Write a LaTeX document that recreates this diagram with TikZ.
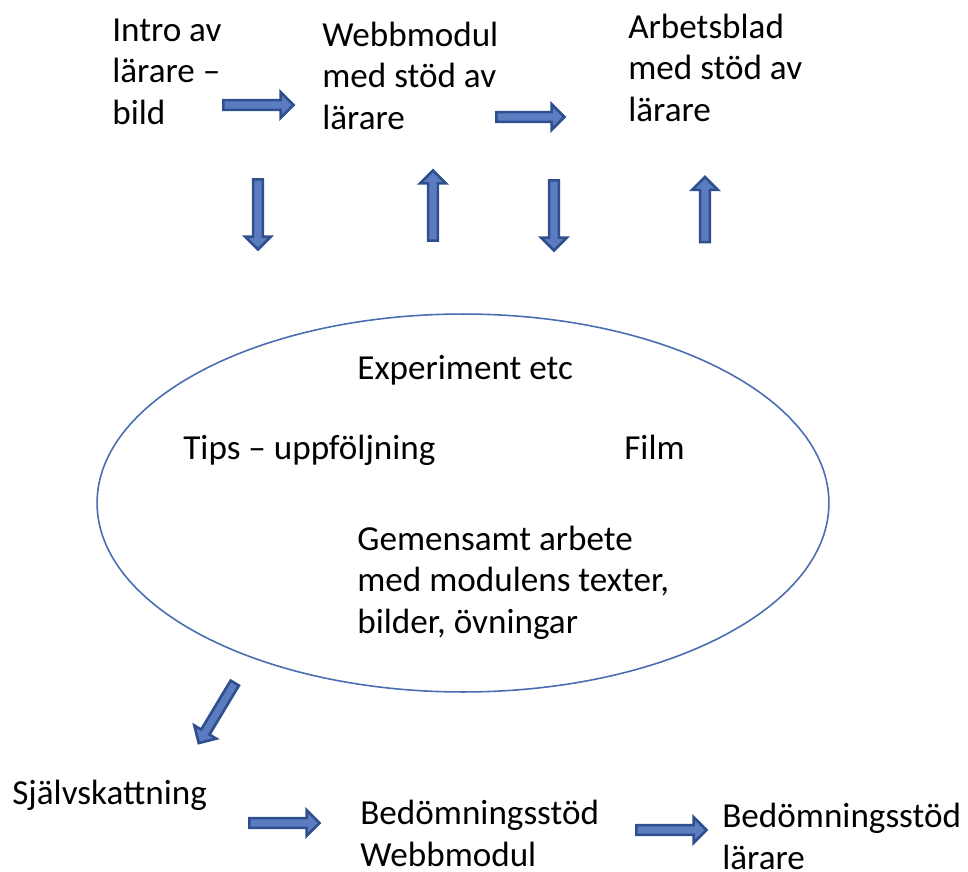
\documentclass[tikz,border=0pt]{standalone}
\usepackage{fontspec}
\setmainfont{Carlito}
\usetikzlibrary{shapes.geometric,shapes.arrows}

\definecolor{pilkant}{HTML}{2F4F8F}
\definecolor{pilfyll}{HTML}{5B7CC0}
\definecolor{ellipsfarg}{HTML}{4A6CB0}

\begin{document}
\begin{tikzpicture}[
    x=0.02cm, y=-0.02cm,
    txt/.style = {anchor=base west, align=left, inner sep=0pt,
                  font=\fontsize{20}{23.5}\selectfont},
    pil/.style = {single arrow, draw=pilkant, fill=pilfyll, line width=1.5pt,
                  inner sep=2pt, minimum height=1.4cm,
                  single arrow head extend=0.16cm, single arrow head indent=0pt}
]
    \useasboundingbox (0,0) rectangle (968,872);

    % --- Rad uppe (ankare = sista radens baslinje) ---
    \node[txt] (intro) at (112,124) {Intro av\\lärare –\\bild};
    \node[txt] (webb) at (322,129) {Webbmodul\\med stöd av\\lärare};
    \node[txt] (arbete) at (628,121) {Arbetsblad\\med stöd av\\lärare};

    \node[pil] (p1) at (256,105) {};
    \node[pil, minimum height=1.36cm] (p2) at (528,117) {};

    \node[pil, rotate=-90] (ned1) at (258,212) {};
    \node[pil, rotate=90] (upp1) at (433,208) {};
    \node[pil, rotate=-90] (ned2) at (554,213) {};
    \node[pil, rotate=90, minimum height=1.3cm] (upp2) at (705,212) {};

    % --- Ellipsen ---
    \node[draw=ellipsfarg, ellipse, line width=0.9pt,
          minimum width=14.64cm, minimum height=7.56cm] (cykel) at (463,503) {};
    \node[txt] (exp) at (357,379) {Experiment etc};
    \node[txt] (tips) at (183,459) {Tips – uppföljning};
    \node[txt] (film) at (624,459) {Film};
    \node[txt] (gem) at (357,633) {Gemensamt arbete\\med modulens texter,\\bilder, övningar};

    % --- Rad nere ---
    \node[pil, rotate=239] (snett) at (218,711) {};
    \node[txt] (sjalv) at (12,804) {Självskattning};
    \node[pil] (p3) at (282,823) {};
    \node[txt] (bedwebb) at (360,866) {Bedömningsstöd\\Webbmodul};
    \node[pil] (p4) at (669,830) {};
    \node[txt] (bedlar) at (722,869) {Bedömningsstöd\\lärare};
\end{tikzpicture}
\end{document}
